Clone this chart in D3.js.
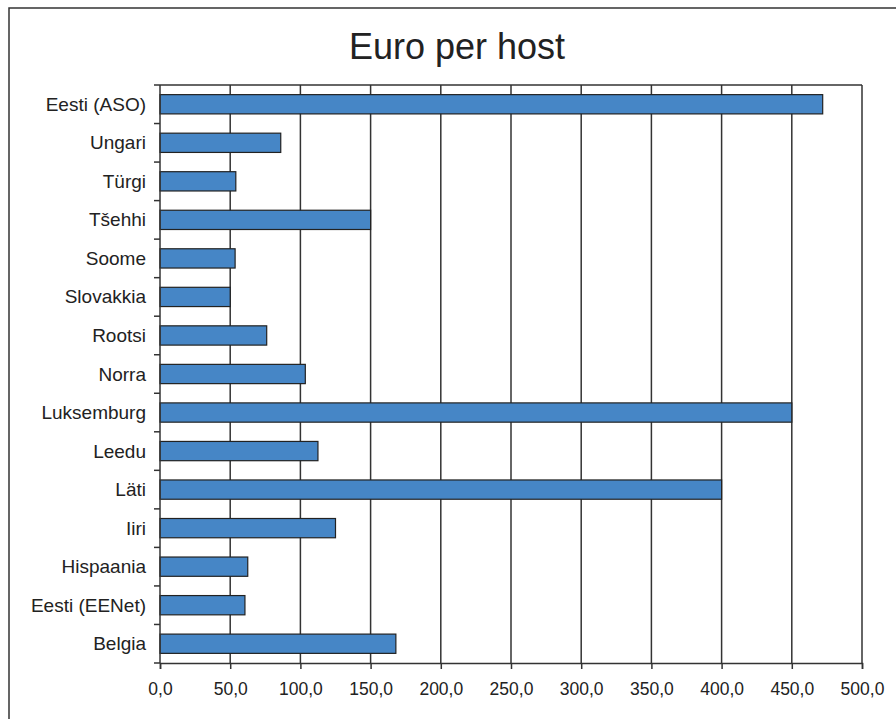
<!DOCTYPE html>
<html>
<head>
<meta charset="utf-8">
<script src="https://cdn.jsdelivr.net/npm/d3@7"></script>
<style>
  body { margin: 0; background: #fff; }
  text { font-family: "Liberation Sans", Arial, sans-serif; fill: #222; }
</style>
</head>
<body>
<div id="chart"></div>
<script>
// data
const countries = ["Eesti (ASO)", "Ungari", "Türgi", "Tšehhi", "Soome", "Slovakkia", "Rootsi", "Norra",
  "Luksemburg", "Leedu", "Läti", "Iiri", "Hispaania", "Eesti (EENet)", "Belgia"];
const euroPerHost = [472, 86, 54, 150, 53.5, 50, 76, 103.5, 450, 112.5, 400, 125, 62.5, 60.5, 168];
const xTicks = [0, 50, 100, 150, 200, 250, 300, 350, 400, 450, 500];
const title = "Euro per host";

const W = 896, H = 719;
const margin = { top: 85, right: 34, bottom: 56, left: 160 };
const innerW = W - margin.left - margin.right;
const innerH = H - margin.top - margin.bottom;

const svg = d3.select("#chart").append("svg").attr("width", W).attr("height", H);

// outer frame (runs off the right/bottom edges like the original)
svg.append("rect").attr("x", 9).attr("y", 8).attr("width", W + 10).attr("height", H + 10)
  .attr("fill", "none").attr("stroke", "#333").attr("stroke-width", 1.5);

svg.append("text").attr("x", 457).attr("y", 59).attr("text-anchor", "middle")
  .style("font-size", "36px").text(title);

const g = svg.append("g").attr("transform", `translate(${margin.left},${margin.top})`);

const x = d3.scaleLinear().domain([0, 500]).range([0, innerW]);
const y = d3.scaleBand().domain(countries).range([0, innerH]).paddingInner(0.5).paddingOuter(0.25);

// vertical gridlines
g.selectAll(".grid").data(xTicks.slice(1)).enter().append("line")
  .attr("x1", d => x(d)).attr("x2", d => x(d)).attr("y1", 0).attr("y2", innerH)
  .attr("stroke", "#333").attr("stroke-width", 1.5);

// top frame line
g.append("line").attr("x1", 0).attr("x2", innerW).attr("y1", 0).attr("y2", 0)
  .attr("stroke", "#333").attr("stroke-width", 1.5);

// bars
g.selectAll(".bar").data(countries).enter().append("rect")
  .attr("x", 0).attr("y", d => y(d))
  .attr("width", (d, i) => x(euroPerHost[i])).attr("height", y.bandwidth())
  .attr("fill", "#4686c6").attr("stroke", "#222").attr("stroke-width", 1.2);

// y axis with ticks at band boundaries
const bounds = d3.range(countries.length + 1).map(i => i * innerH / countries.length);
g.append("line").attr("x1", 0).attr("x2", 0).attr("y1", 0).attr("y2", innerH)
  .attr("stroke", "#333").attr("stroke-width", 1.5);
g.selectAll(".ytick").data(bounds).enter().append("line")
  .attr("x1", -6).attr("x2", 0).attr("y1", d => d).attr("y2", d => d)
  .attr("stroke", "#333").attr("stroke-width", 1.5);
g.selectAll(".ylab").data(countries).enter().append("text")
  .attr("x", -14).attr("y", d => y(d) + y.bandwidth() / 2)
  .attr("text-anchor", "end").attr("dominant-baseline", "central")
  .style("font-size", "19px").text(d => d);

// x axis
const fmt = d => d3.format(".1f")(d).replace(".", ",");
const xAxis = g.append("g").attr("transform", `translate(0,${innerH})`)
  .call(d3.axisBottom(x).tickValues(xTicks).tickFormat(fmt).tickSize(6).tickPadding(14));
xAxis.select(".domain").attr("stroke", "#333").attr("stroke-width", 1.5);
xAxis.selectAll(".tick line").attr("stroke", "#333").attr("stroke-width", 1.5);
xAxis.selectAll(".tick text").style("font-size", "17.5px")
  .style("font-family", "'Liberation Sans', Arial, sans-serif").attr("fill", "#222");
</script>
</body>
</html>
